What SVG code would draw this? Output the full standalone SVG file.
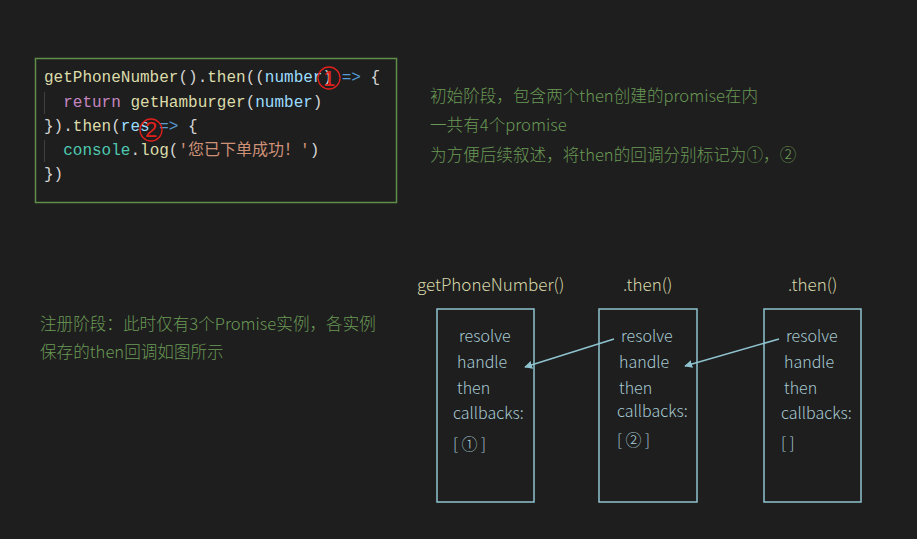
<svg xmlns="http://www.w3.org/2000/svg" width="917" height="539" viewBox="0 0 917 539">
<defs>
<style>
.code{font-family:"Liberation Mono","DejaVu Sans Mono",monospace;font-size:16px;white-space:pre}
.fn{fill:#dcdcaa}.pl{fill:#d4d4d4}.pm{fill:#9cdcfe}.kw{fill:#569cd6}.rt{fill:#c586c0}.cl{fill:#4ec9b0}.st{fill:#ce9178}
.note{font-family:"Noto Sans CJK SC","Noto Sans",sans-serif;font-size:16.6px;font-weight:300;fill:#6a9955}
.title{font-family:"Noto Sans CJK SC","Noto Sans",sans-serif;font-size:17px;font-weight:300;fill:#d6d6a8}
.bt{font-family:"Noto Sans CJK SC","Noto Sans",sans-serif;font-size:16px;font-weight:300;fill:#a8cbd4}
.box{fill:none;stroke:#8fc3cf;stroke-width:1.5}
.conn{stroke:#8fc3cf;stroke-width:1.5;fill:none}
.red{fill:none;stroke:#e0201c;stroke-width:1.3}
.redt{font-family:"Liberation Sans",sans-serif;font-size:22px;fill:#e0201c}
</style>
<marker id="ah" viewBox="0 0 10 10" refX="9" refY="5" markerWidth="8" markerHeight="8" orient="auto" markerUnits="userSpaceOnUse">
<path d="M0,0 L10,5 L0,10 z" fill="#8fc3cf"/>
</marker>
</defs>
<rect x="0" y="0" width="917" height="539" fill="#1e1e1e"/>

<g id="code">
<rect x="35.5" y="58.5" width="361" height="144" fill="#1e1e1e" stroke="#5f8d4a" stroke-width="1.5"/>
<line x1="44.5" y1="92" x2="44.5" y2="114" stroke="#404040"/>
<line x1="44.5" y1="140" x2="44.5" y2="162" stroke="#404040"/>
<text class="code" x="44" y="82"><tspan class="fn">getPhoneNumber</tspan><tspan class="pl">().</tspan><tspan class="fn">then</tspan><tspan class="pl">((</tspan><tspan class="pm">number</tspan><tspan class="pl">) </tspan><tspan class="kw">=&gt;</tspan><tspan class="pl"> {</tspan></text>
<text class="code" x="44" y="107"><tspan class="pl">  </tspan><tspan class="rt">return</tspan><tspan class="pl"> </tspan><tspan class="fn">getHamburger</tspan><tspan class="pl">(</tspan><tspan class="pm">number</tspan><tspan class="pl">)</tspan></text>
<text class="code" x="44" y="131"><tspan class="pl">}).</tspan><tspan class="fn">then</tspan><tspan class="pl">(</tspan><tspan class="pm">res</tspan><tspan class="pl"> </tspan><tspan class="kw">=&gt;</tspan><tspan class="pl"> {</tspan></text>
<text class="code" x="44" y="155"><tspan class="pl">  </tspan><tspan class="cl">console</tspan><tspan class="pl">.</tspan><tspan class="fn">log</tspan><tspan class="pl">(</tspan><tspan class="st" style="font-family:'Liberation Mono','Noto Sans CJK SC',monospace">'您已下单成功！'</tspan><tspan class="pl">)</tspan></text>
<text class="code" x="44" y="179"><tspan class="pl">})</tspan></text>
<ellipse class="red" cx="329" cy="78" rx="11" ry="11"/>
<text class="redt" x="323" y="86">1</text>
<ellipse class="red" cx="151" cy="130" rx="11" ry="11"/>
<text class="redt" x="145" y="137">2</text>
</g>

<g id="note-init">
<text class="note" x="430" y="102">初始阶段，包含两个then创建的promise在内</text>
<text class="note" x="430" y="131">一共有4个promise</text>
<text class="note" x="430" y="161">为方便后续叙述，将then的回调分别标记为①，②</text>
</g>

<g id="note-register">
<text class="note" x="40" y="330">注册阶段：此时仅有3个Promise实例，各实例</text>
<text class="note" x="40" y="358">保存的then回调如图所示</text>
</g>

<g id="promise1">
<text class="title" x="417" y="291">getPhoneNumber()</text>
<rect class="box" x="437" y="309" width="97" height="193"/>
<text class="bt" x="459" y="342">resolve</text>
<text class="bt" x="457" y="368">handle</text>
<text class="bt" x="457" y="394">then</text>
<text class="bt" x="453" y="419">callbacks:</text>
<text class="bt" x="453" y="450">[ ① ]</text>
</g>

<g id="promise2">
<text class="title" x="623" y="291">.then()</text>
<rect class="box" x="599" y="309" width="98" height="193"/>
<text class="bt" x="621" y="342">resolve</text>
<text class="bt" x="619" y="368">handle</text>
<text class="bt" x="619" y="394">then</text>
<text class="bt" x="617" y="417">callbacks:</text>
<text class="bt" x="617" y="446">[ ② ]</text>
</g>

<g id="promise3">
<text class="title" x="788" y="291">.then()</text>
<rect class="box" x="764" y="309" width="97" height="193"/>
<text class="bt" x="786" y="342">resolve</text>
<text class="bt" x="784" y="368">handle</text>
<text class="bt" x="784" y="394">then</text>
<text class="bt" x="781" y="419">callbacks:</text>
<text class="bt" x="781" y="449">[ ]</text>
</g>

<g id="connectors">
<line class="conn" x1="614" y1="339" x2="525" y2="367" marker-end="url(#ah)"/>
<line class="conn" x1="779" y1="339" x2="685" y2="366" marker-end="url(#ah)"/>
</g>
</svg>
